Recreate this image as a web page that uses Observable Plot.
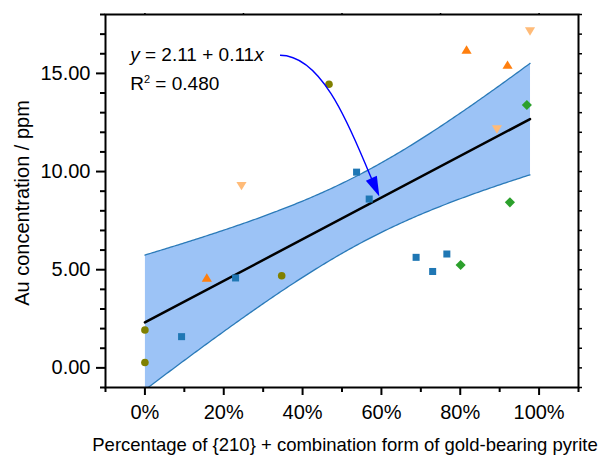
<!DOCTYPE html>
<html>
<head>
<meta charset="utf-8">
<script src="https://cdn.jsdelivr.net/npm/d3@7"></script>
<script src="https://cdn.jsdelivr.net/npm/@observablehq/plot@0.6"></script>
<style>
  body { margin: 0; background: #fff; }
  svg { display: block; }
</style>
</head>
<body>
<div id="chart"></div>
<script>
// ---- data (x in %, y in ppm) ----
const circleX = [0, 0, 34.7, 46.7];
const circleY = [1.93, 0.27, 4.69, 14.45];
const squareX = [9.3, 23.0, 53.7, 56.9, 68.8, 73.0, 76.6];
const squareY = [1.59, 4.58, 9.97, 8.60, 5.63, 4.91, 5.80];
const diamondX = [80.1, 92.6, 96.9];
const diamondY = [5.24, 8.43, 13.39];
const triUpX = [15.7, 81.6, 92.0];
const triUpY = [4.58, 16.19, 15.42];
const triDownX = [24.5, 89.3, 97.7];
const triDownY = [9.28, 12.17, 17.16];

// ---- ticks / labels ----
const xMajorTicks = [0, 20, 40, 60, 80, 100];
const xMinorTicks = [-10, 10, 30, 50, 70, 90, 110];
const xTopTicks = [0, 25, 50, 75, 100];
const yMajorTicks = [0, 5, 10, 15];
const yMinorTicks = [-1, 1, 2, 3, 4, 6, 7, 8, 9, 11, 12, 13, 14, 16, 17, 18];
const yRightTicks = [-1, 0, 1, 2, 3, 4, 5, 6, 7, 8, 9, 10, 11, 12, 13, 14, 15, 16, 17, 18];
const xTitle = "Percentage of {210} + combination form of gold-bearing pyrite";
const yTitle = "Au concentration / ppm";
const eqIntercept = "2.11", eqSlope = "0.11", eqR2 = "0.480";

// annotation anchor points (data coordinates)
const eqPos = [{x: -3.6, y: 15.6}, {x: -3.6, y: 14.15}];
const arrowCtrl = [{x: 34.4, y: 15.9}, {x: 45.9, y: 15.9}, {x: 53.3, y: 11.6}, {x: 59.6, y: 8.7}];

// ---- build tables ----
const toRows = (xs, ys, group) => xs.map((x, i) => ({x, y: ys[i], group}));
const circles = toRows(circleX, circleY, "circle");
const squares = toRows(squareX, squareY, "square");
const diamonds = toRows(diamondX, diamondY, "diamond");
const ups = toRows(triUpX, triUpY, "up");
const downs = toRows(triDownX, triDownY, "down");
const all = [...circles, ...squares, ...diamonds, ...ups, ...downs];

// ---- regression confidence band edges (computed from data) ----
const n = all.length;
const mx = d3.mean(all, d => d.x), my = d3.mean(all, d => d.y);
const sxx = d3.sum(all, d => (d.x - mx) ** 2);
const sxy = d3.sum(all, d => (d.x - mx) * (d.y - my));
const slope = sxy / sxx, intercept = my - slope * mx;
const sse = d3.sum(all, d => (d.y - intercept - slope * d.x) ** 2);
const s = Math.sqrt(sse / (n - 2));
const tq = 2.100922; // Student t, 0.975, df = 18
const [x0, x1] = d3.extent(all, d => d.x);
const xs = d3.range(x0, x1, 0.5).concat([x1]);
const bandEdges = xs.map(x => {
  const se = s * Math.sqrt(1 / n + (x - mx) ** 2 / sxx);
  const yh = intercept + slope * x;
  return {x, lo: yh - tq * se, hi: yh + tq * se};
});

// ---- custom symbols ----
const symSquare = {draw(ctx, size) { const r = Math.sqrt(size / Math.PI); const h = 0.9 * r;
  ctx.moveTo(-h, -h); ctx.lineTo(h, -h); ctx.lineTo(h, h); ctx.lineTo(-h, h); ctx.closePath(); }};
const symDiamond = {draw(ctx, size) { const r = Math.sqrt(size / Math.PI); const h = 1.3 * r;
  ctx.moveTo(0, -h); ctx.lineTo(h, 0); ctx.lineTo(0, h); ctx.lineTo(-h, 0); ctx.closePath(); }};
const symUp = {draw(ctx, size) { const r = Math.sqrt(size / Math.PI);
  ctx.moveTo(0, -1.2 * r); ctx.lineTo(1.3 * r, 0.95 * r); ctx.lineTo(-1.3 * r, 0.95 * r); ctx.closePath(); }};
const symDown = {draw(ctx, size) { const r = Math.sqrt(size / Math.PI);
  ctx.moveTo(0, 1.2 * r); ctx.lineTo(1.3 * r, -0.95 * r); ctx.lineTo(-1.3 * r, -0.95 * r); ctx.closePath(); }};

const font = "'Liberation Sans', Arial, Helvetica, sans-serif";
const blank = () => "";

// ---- annotation (equation + curved arrow) drawn with the plot's scales ----
function annotation(index, scales) {
  const sx = scales.x, sy = scales.y;
  const g = d3.create("svg:g");
  const p = arrowCtrl.map(d => [sx(d.x), sy(d.y)]);
  const [tx, ty] = p[3];
  const dxv = p[3][0] - p[2][0], dyv = p[3][1] - p[2][1];
  const L = Math.hypot(dxv, dyv), ux = dxv / L, uy = dyv / L;
  const hl = 20, hw = 6;
  const bx = tx - ux * hl, by = ty - uy * hl;
  g.append("path")
    .attr("d", `M${p[0][0]},${p[0][1]}C${p[1][0]},${p[1][1]} ${p[2][0]},${p[2][1]} ${bx + ux * 2},${by + uy * 2}`)
    .attr("fill", "none").attr("stroke", "#0000ff").attr("stroke-width", 1.4);
  g.append("path")
    .attr("d", `M${tx},${ty}L${bx - uy * hw},${by + ux * hw}L${bx + uy * hw},${by - ux * hw}Z`)
    .attr("fill", "#0000ff");
  const t1 = g.append("text").attr("x", sx(eqPos[0].x)).attr("y", sy(eqPos[0].y))
    .attr("text-anchor", "start")
    .attr("font-family", font).attr("font-size", 19).attr("fill", "black");
  t1.append("tspan").attr("font-style", "italic").text("y");
  t1.append("tspan").text(` = ${eqIntercept} + ${eqSlope}`);
  t1.append("tspan").attr("font-style", "italic").text("x");
  const t2 = g.append("text").attr("x", sx(eqPos[1].x)).attr("y", sy(eqPos[1].y))
    .attr("text-anchor", "start")
    .attr("font-family", font).attr("font-size", 19).attr("fill", "black");
  t2.append("tspan").text("R");
  t2.append("tspan").attr("dy", -7).attr("font-size", 11).text("2");
  t2.append("tspan").attr("dy", 7).text(` = ${eqR2}`);
  return g.node();
}

const chart = Plot.plot({
  width: 600,
  height: 456,
  marginLeft: 105,
  marginRight: 22,
  marginTop: 14,
  marginBottom: 69,
  style: {fontFamily: font, fontSize: "20px", color: "black", background: "white"},
  x: {domain: [-10, 110]},
  y: {domain: [-1, 18]},
  marks: [
    Plot.linearRegressionY(all, {x: "x", y: "y", ci: 0.95, fill: "#9cc3f6", fillOpacity: 1,
      stroke: "black", strokeWidth: 2.5, clip: true}),
    Plot.line(bandEdges, {x: "x", y: "hi", stroke: "#2a7ab8", strokeWidth: 1.3, clip: true}),
    Plot.line(bandEdges, {x: "x", y: "lo", stroke: "#2a7ab8", strokeWidth: 1.3, clip: true}),
    Plot.dot(circles, {x: "x", y: "y", r: 3.8, fill: "#808000", symbol: "circle"}),
    Plot.dot(squares, {x: "x", y: "y", r: 3.9, fill: "#1f77b4", symbol: symSquare}),
    Plot.dot(diamonds, {x: "x", y: "y", r: 3.9, fill: "#2ca02c", symbol: symDiamond}),
    Plot.dot(ups, {x: "x", y: "y", r: 3.9, fill: "#ff7f0e", symbol: symUp}),
    Plot.dot(downs, {x: "x", y: "y", r: 3.9, fill: "#ffbb78", symbol: symDown}),
    Plot.frame({stroke: "black", strokeWidth: 2}),
    Plot.axisY({anchor: "left", ticks: yMajorTicks, tickSize: 9, tickPadding: 6,
      tickFormat: d => d.toFixed(2), label: null, strokeWidth: 2, fontSize: 20}),
    Plot.axisY({anchor: "left", ticks: yMinorTicks, tickSize: 5, tickFormat: blank, label: null, strokeWidth: 2}),
    Plot.axisY({anchor: "right", ticks: yRightTicks, tickSize: 3, tickFormat: blank, label: null, strokeWidth: 1.5}),
    Plot.axisX({anchor: "bottom", ticks: xMajorTicks, tickSize: 8, tickPadding: 9,
      tickFormat: d => d + "%", label: null, strokeWidth: 2, fontSize: 20}),
    Plot.axisX({anchor: "bottom", ticks: xMinorTicks, tickSize: 5, tickFormat: blank, label: null, strokeWidth: 2}),
    Plot.axisX({anchor: "top", ticks: xTopTicks, tickSize: 2, tickFormat: blank, label: null, strokeWidth: 1.5}),
    Plot.text([yTitle], {frameAnchor: "left", rotate: -90, dx: -83, dy: 2, fontSize: 20, fill: "black",
      textAnchor: "middle", lineAnchor: "middle"}),
    Plot.text([xTitle], {frameAnchor: "bottom", dx: 3, dy: 58, fontSize: 18.5, fill: "black",
      textAnchor: "middle", lineAnchor: "middle"}),
    annotation
  ]
});
document.getElementById("chart").appendChild(chart);
</script>
</body>
</html>
